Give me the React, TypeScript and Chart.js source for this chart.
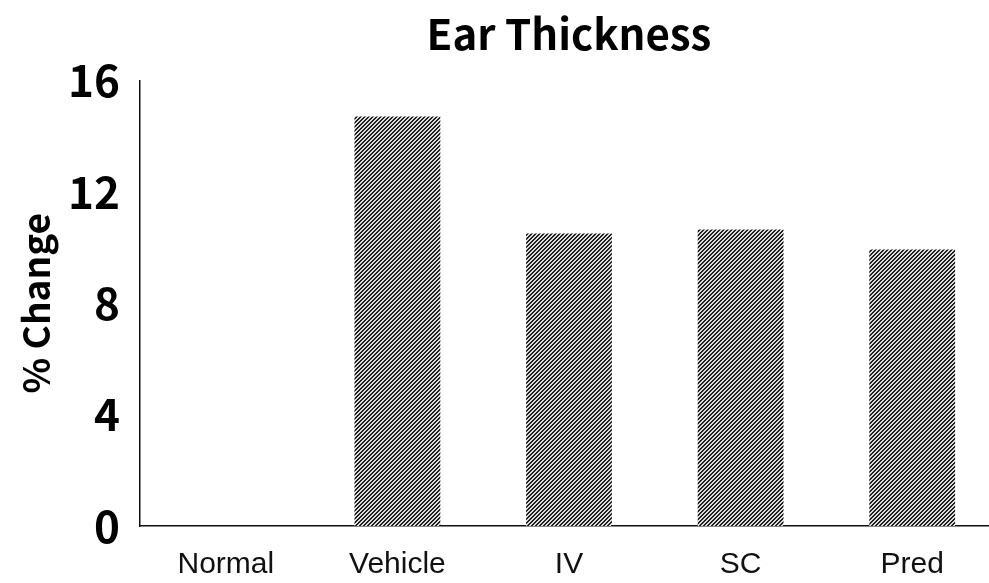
import React, { useEffect, useRef } from "react";
import { Chart, registerables } from "chart.js";

Chart.register(...registerables);

const categories = ["Normal", "Vehicle", "IV", "SC", "Pred"];
const percentChange = [0, 14.7, 10.5, 10.65, 9.93];
const yTicks = [0, 4, 8, 12, 16];
const chartTitle = "Ear Thickness";
const yTitle = "% Change";

function makePattern(): CanvasPattern | string {
  const c = document.createElement("canvas");
  c.width = 4;
  c.height = 4;
  const g = c.getContext("2d");
  if (!g) return "#808080";
  g.fillStyle = "#dcdcdc";
  g.fillRect(0, 0, 4, 4);
  g.fillStyle = "#202020";
  for (let y = 0; y < 4; y++) {
    for (let x = 0; x < 4; x++) {
      if ((x + y) % 4 < 2) g.fillRect(x, y, 1, 1);
    }
  }
  const p = g.createPattern(c, "repeat");
  return p || "#808080";
}

export default function App() {
  const ref = useRef<HTMLCanvasElement | null>(null);

  useEffect(() => {
    const canvas = ref.current;
    if (!canvas) return;
    const pattern = makePattern();
    const chart = new Chart(canvas, {
      type: "bar",
      data: {
        labels: categories,
        datasets: [
          {
            data: percentChange,
            backgroundColor: pattern as any,
            borderWidth: 0,
            barPercentage: 0.5,
            categoryPercentage: 1,
          },
        ],
      },
      options: {
        animation: false,
        responsive: false,
        layout: { padding: 0 },
        plugins: {
          legend: { display: false },
          tooltip: { enabled: false },
          title: {
            display: true,
            text: chartTitle,
            fullSize: false,
            color: "#000",
            font: { family: "'Noto Sans CJK KR', 'Noto Sans', sans-serif", size: 42, weight: "bold", lineHeight: 1.2 },
            padding: { top: 9, bottom: 21 },
          },
        },
        scales: {
          x: {
            grid: { display: false, drawTicks: false },
            border: { display: true, color: "#111", width: 1.5 },
            ticks: {
              color: "#111",
              padding: 21,
              font: { family: "'Liberation Sans', Arial, sans-serif", size: 30 },
            },
            afterFit: (s: any) => {
              s.height = 57;
            },
          },
          y: {
            min: 0,
            max: 16,
            afterBuildTicks: (s: any) => {
              s.ticks = yTicks.map((v) => ({ value: v }));
            },
            grid: { display: false, drawTicks: false },
            border: { display: true, color: "#111", width: 1.5 },
            ticks: {
              color: "#000",
              padding: 20,
              font: { family: "'Noto Sans CJK KR', 'Noto Sans', sans-serif", size: 44, weight: "bold" },
            },
            title: {
              display: true,
              text: yTitle,
              color: "#000",
              padding: { top: 14, bottom: 0 },
              font: { family: "'Noto Sans CJK KR', 'Noto Sans', sans-serif", size: 37, weight: "bold", lineHeight: 1.2 },
            },
            afterFit: (s: any) => {
              s.width = 140;
            },
          },
        },
      },
    });
    return () => chart.destroy();
  }, []);

  return (
    <div
      style={{
        position: "fixed",
        left: 0,
        top: 0,
        width: 989,
        height: 583,
        overflow: "hidden",
        background: "#fff",
      }}
    >
      <canvas ref={ref} width={998} height={583} style={{ width: 998, height: 583, display: "block" }} />
    </div>
  );
}
